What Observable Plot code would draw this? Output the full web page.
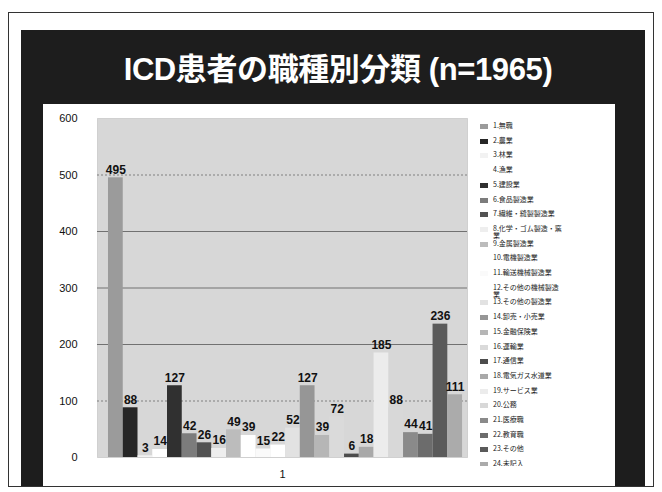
<!DOCTYPE html>
<html lang="ja">
<head>
<meta charset="utf-8">
<script src="https://cdn.jsdelivr.net/npm/d3@7"></script>
<script src="https://cdn.jsdelivr.net/npm/@observablehq/plot@0.6"></script>
<style>
  html, body { margin: 0; padding: 0; background: #fff; }
  #page { position: relative; width: 662px; height: 492px; overflow: hidden; background: #fff;
          font-family: "Liberation Sans", Arial, "Noto Sans CJK JP", sans-serif; }
  #frame { position: absolute; left: 8px; top: 12px; width: 646px; height: 475px; border: 1px solid #333; box-sizing: border-box; }
  #panel { position: absolute; left: 21px; top: 30px; width: 624px; height: 456px; background: #1d1d1d; }
  #title { position: absolute; left: 21px; top: 44px; width: 634px; text-align: center; color: #fff;
           font-size: 31px; font-weight: bold; letter-spacing: -0.4px;
           font-family: "Liberation Sans", Arial, "Noto Sans CJK JP", sans-serif; }
  #sheet { position: absolute; left: 43px; top: 104px; width: 572px; height: 382px; background: #fff; }
  #sheet svg { position: absolute; left: 0; top: 0; }
  #legend { position: absolute; left: 437px; top: 14px; width: 130px; height: 348px; overflow: hidden;
            font-family: "Noto Sans CJK JP", sans-serif; font-size: 7px; color: #222; }
  .item { position: absolute; left: 0; display: flex; align-items: flex-start; }
  .sw { width: 8px; height: 5px; margin-top: 2px; margin-right: 5px; flex: none; }
  .lab { width: 70px; line-height: 7.5px; }
</style>
</head>
<body>
<div id="page">
  <div id="frame"></div>
  <div id="panel"></div>
  <div id="title">ICD患者の職種別分類 (n=1965)</div>
  <div id="sheet"><div id="legend"></div></div>
</div>
<script>
// Occupation categories (legend order) and patient counts
const categories = [
  "1.無職", "2.農業", "3.林業", "4.漁業", "5.建設業", "6.食品製造業",
  "7.繊維・縫製製造業", "8.化学・ゴム製造・窯業", "9.金属製造業", "10.電機製造業",
  "11.輸送機械製造業", "12.その他の機械製造業", "13.その他の製造業", "14.卸売・小売業",
  "15.金融保険業", "16.運輸業", "17.通信業", "18.電気ガス水道業", "19.サービス業",
  "20.公務", "21.医療職", "22.教育職", "23.その他", "24.未記入"
];
const counts = [495, 88, 3, 14, 127, 42, 26, 16, 49, 39, 15, 22, 52, 127, 39, 72, 6, 18, 185, 88, 44, 41, 236, 111];
const groupLabel = "1";
const yTicks = [0, 100, 200, 300, 400, 500, 600];
const solidGrid = [200, 300, 400];
const dottedGrid = [100, 500];

// Grey fills for each occupation
const palette = [
  "#9b9b9b", "#262626", "#f2f2f2", "#ffffff", "#303030", "#7c7c7c",
  "#525252", "#eeeeee", "#bcbcbc", "#ffffff", "#fafafa", "#ffffff",
  "#e2e2e2", "#969696", "#b6b6b6", "#dadada", "#4c4c4c", "#a9a9a9",
  "#ececec", "#d8d8d8", "#8a8a8a", "#6c6c6c", "#5a5a5a", "#ababab"
];

const rows = categories.map((c, i) => ({category: c, count: counts[i]}));

const chart = Plot.plot({
  width: 572,
  height: 382,
  marginLeft: 54,
  marginRight: 148,
  marginTop: 14,
  marginBottom: 29,
  style: {background: "transparent", color: "#111", fontSize: "11px",
          fontFamily: "'Liberation Sans', Arial, sans-serif"},
  x: {domain: categories, paddingInner: 0, paddingOuter: 0.54, align: 0.69, round: false, axis: null},
  y: {domain: [0, 600], ticks: yTicks, tickSize: 0, tickPadding: 20, label: null},
  color: {domain: categories, range: palette},
  marks: [
    Plot.frame({fill: "#d7d7d7", stroke: "#b5b5b5", strokeDasharray: "1,1"}),
    Plot.gridY(solidGrid, {stroke: "#666", strokeOpacity: 0.9}),
    Plot.gridY(dottedGrid, {stroke: "#777", strokeOpacity: 0.9, strokeDasharray: "2,2"}),
    Plot.rectY(rows, {x: "category", y: "count", fill: "category"}),
    Plot.text(rows, {x: "category", y: "count", text: d => String(d.count), dy: -8,
                     fontSize: 12, fontWeight: "bold", fill: "#111"}),
    Plot.text([groupLabel], {frameAnchor: "bottom", dy: 20, fontSize: 11, fill: "#111"})
  ]
});
document.getElementById("sheet").prepend(chart);

// Legend: one row per occupation
const legend = d3.select("#legend");
const rowStep = 14.7;
categories.forEach((c, i) => {
  const item = legend.append("div").attr("class", "item").style("top", `${4 + i * rowStep}px`);
  item.append("div").attr("class", "sw").style("background", palette[i]);
  item.append("div").attr("class", "lab").text(c);
});
</script>
</body>
</html>
